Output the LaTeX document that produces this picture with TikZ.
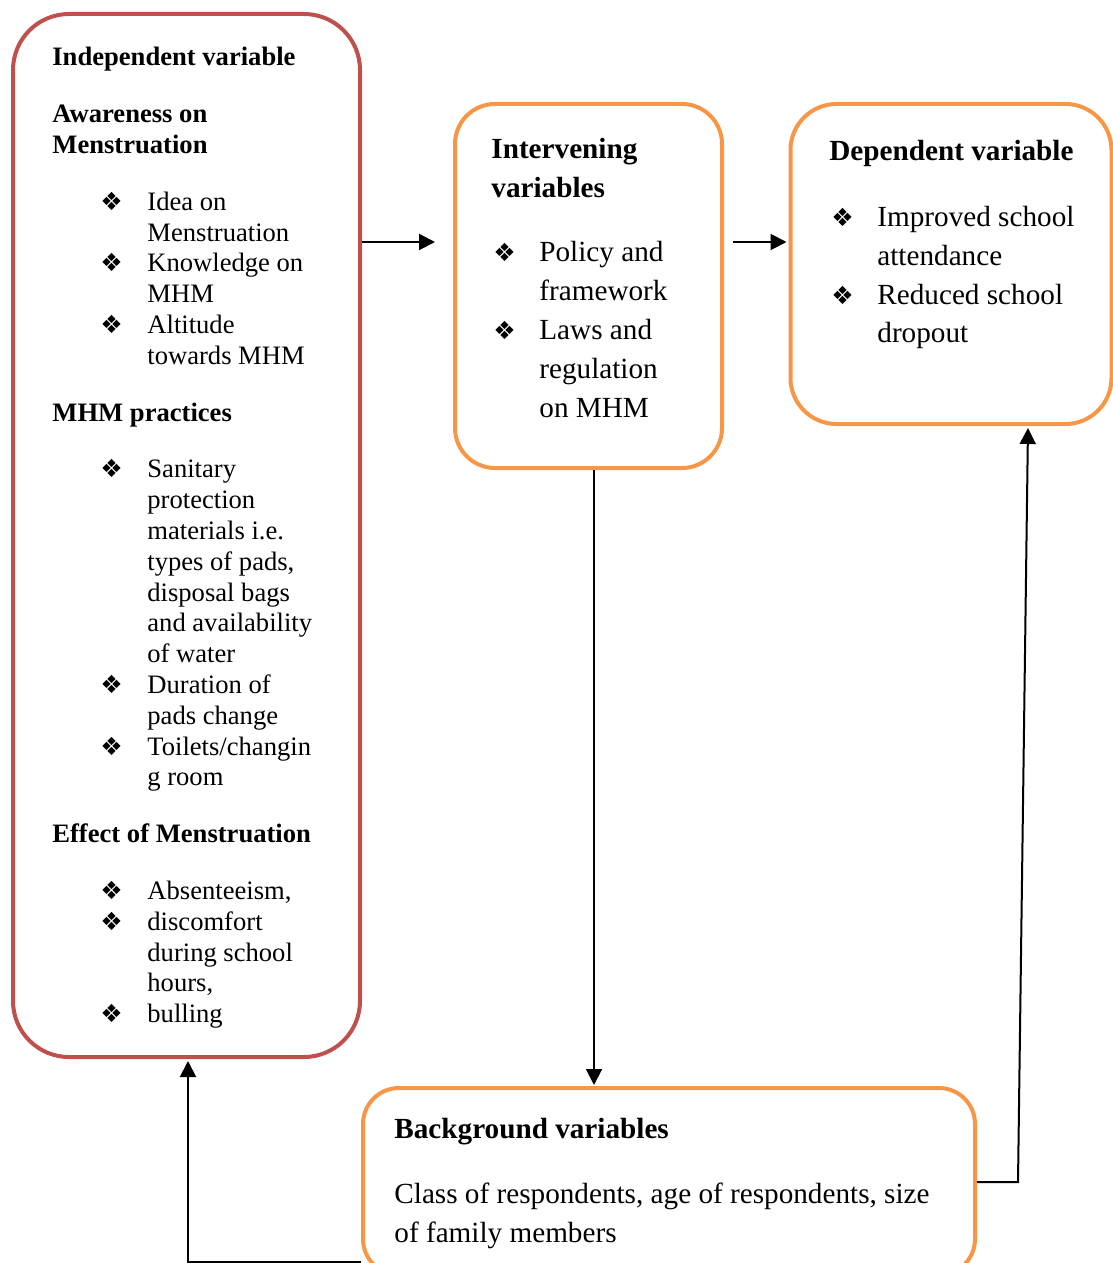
\documentclass[tikz,border=0pt]{standalone}
\usepackage{fontspec}
\setmainfont{Liberation Serif}
\newfontfamily\symfont{DejaVu Sans}
\usetikzlibrary{arrows.meta}
\definecolor{ivred}{HTML}{C0504D}
\definecolor{mvorange}{HTML}{F79646}
\newcommand{\dia}{{\symfont\fontsize{12.5}{12.5}\selectfont ❖}}
\newcommand{\hd}[1]{\multicolumn{2}{@{}l@{}}{\textbf{#1}}}
\begin{document}
\begin{tikzpicture}[x=0.5pt,y=-0.5pt,shorten >=1pt,
	redbox/.style={draw=ivred, line width=2pt, rounded corners=28pt},
	orbox/.style={draw=mvorange, line width=2pt},
	txt/.style={anchor=base west, inner sep=0pt, align=left},
	small/.style={font=\fontsize{13.3pt}{15.4pt}\selectfont},
	large/.style={font=\fontsize{14.6pt}{19.5pt}\selectfont},
	arrow/.style={line width=1pt, -{Triangle[length=8pt,width=8pt]}}]
	\useasboundingbox (0,0) rectangle (1113,1263);
	% boxes
	\node (IV) at (186.5, 535.5)	[redbox, minimum width=173.5pt, minimum height=521.5pt]	{};
	\node (MV) at (588.5, 286)	[orbox, rounded corners=20pt, minimum width=133.5pt, minimum height=182pt]	{};
	\node (DV) at (951, 264)	[orbox, rounded corners=23pt, minimum width=160.5pt, minimum height=160pt]	{};
	\node (BV) at (669, 1181.5)	[orbox, rounded corners=18pt, minimum width=306pt, minimum height=93.5pt]	{};
	% texts
	\node (IVt) at (52, 66)	[txt, small]	{\begin{tabular}[t]{@{}p{24pt}@{}p{23.5pt}@{}l@{}}
		\multicolumn{3}{@{}l@{}}{\textbf{Independent variable}}\\[13pt]
		\multicolumn{3}{@{}l@{}}{\textbf{Awareness on}}\\
		\multicolumn{3}{@{}l@{}}{\textbf{Menstruation}}\\[13pt]
		& \dia & Idea on\\
		& & Menstruation\\
		& \dia & Knowledge on\\
		& & MHM\\
		& \dia & Altitude\\
		& & towards MHM\\[13pt]
		\multicolumn{3}{@{}l@{}}{\textbf{MHM practices}}\\[13pt]
		& \dia & Sanitary\\
		& & protection\\
		& & materials i.e.\\
		& & types of pads,\\
		& & disposal bags\\
		& & and availability\\
		& & of water\\
		& \dia & Duration of\\
		& & pads change\\
		& \dia & Toilets/changin\\
		& & g room\\[13pt]
		\multicolumn{3}{@{}l@{}}{\textbf{Effect of Menstruation}}\\[13pt]
		& \dia & Absenteeism,\\
		& \dia & discomfort\\
		& & during school\\
		& & hours,\\
		& \dia & bulling
	\end{tabular}};
	\node (MVt) at (491, 158)	[txt, large]	{\begin{tabular}[t]{@{}p{24pt}@{}l@{}}
		\hd{Intervening}\\
		\hd{variables}\\[12.5pt]
		\hspace{1pt}\dia & Policy and\\
		& framework\\
		\hspace{1pt}\dia & Laws and\\
		& regulation\\
		& on MHM
	\end{tabular}};
	\node (DVt) at (829, 161)	[txt, large]	{\begin{tabular}[t]{@{}p{24pt}@{}l@{}}
		\hd{Dependent variable}\\[13pt]
		\hspace{1pt}\dia & Improved school\\
		& attendance\\
		\hspace{1pt}\dia & Reduced school\\
		& dropout
	\end{tabular}};
	\node (BVt) at (394, 1138)	[txt, large]	{\begin{tabular}[t]{@{}l@{}}
		\textbf{Background variables}\\[13pt]
		Class of respondents, age of respondents, size\\
		of family members
	\end{tabular}};
	% connectors
	\coordinate (a1) at (437, 242);
	\coordinate (a2) at (733, 242);
	\coordinate (a3) at (594, 1087);
	\coordinate (a4) at (1018, 1182);
	\coordinate (a5) at (1028, 0);
	\coordinate (a6) at (188, 1262);
	\draw[arrow] (IV.east |- a1) -- (a1);
	\draw[arrow] (a2) -- (DV.west |- a2);
	\draw[arrow] (MV.south -| a3) -- (a3);
	\draw[arrow] (BV.east |- a4) -- (a4) -- (DV.south -| a5);
	\draw[arrow] (BV.west |- a6) -- (a6) -- (IV.south -| a6);
\end{tikzpicture}
\end{document}
